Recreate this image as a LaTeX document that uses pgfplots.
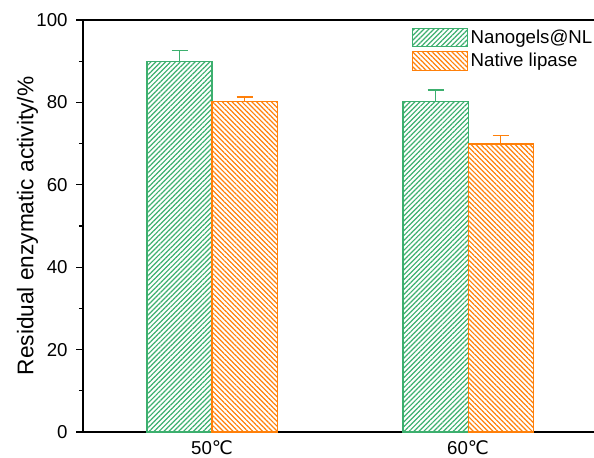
\documentclass[border=0pt]{standalone}
\usepackage{pgfplots}
\pgfplotsset{compat=1.18}
\usepackage{fontspec}
\setmainfont{Liberation Sans}
\newfontfamily\dejavu{DejaVu Sans}
\usetikzlibrary{patterns.meta,calc}

\definecolor{cgreen}{RGB}{60,175,110}
\definecolor{corange}{RGB}{255,128,10}

\begin{document}
\begin{tikzpicture}
\begin{axis}[name=ax,
    scale only axis, width=383.25pt, height=309pt,
    ybar=0pt, bar width=0.254,
    xmin=-0.504, xmax=1.492, ymin=0, ymax=100,
    axis x line*=box, axis y line*=left,
    axis line style={line width=1.2pt},
    xtick={0,1}, xticklabels={50{\dejavu ℃}, 60{\dejavu ℃}},
    major x tick style={draw=none},
    ytick={0,20,...,100}, minor y tick num=1,
    tick align=outside,
    major tick length=5pt, minor tick length=3pt,
    every tick/.style={line width=1pt, black},
    /pgf/number format/assume math mode=true,
    tick label style={font=\fontsize{14}{16}\selectfont},
    yticklabel style={xshift=-3pt},
    xticklabel style={yshift=2pt},
    ylabel={Residual enzymatic activity/\%},
    ylabel style={font=\fontsize{17}{20}\selectfont},
    ylabel shift=-8pt,
    legend style={at={(0.636,0.99)}, anchor=north west, draw=none, fill=none,
        font=\fontsize{14}{16}\selectfont, row sep=2pt,
        legend cell align=left},
    legend image code/.code={\draw[#1] (0pt,-7pt) rectangle (41pt,7pt);},
    error bars/y dir=plus, error bars/y explicit,
]
\addplot[draw=cgreen, line width=0.8pt,
    pattern={Lines[angle=45,distance=2.6pt,line width=0.9pt]}, pattern color=cgreen,
    error bars/error bar style={cgreen, line width=1pt},
    error bars/error mark options={cgreen, line width=1pt, mark size=6pt, rotate=90}]
    coordinates {(0,90.0) +- (0,2.6) (1,80.3) +- (0,2.7)};
\addplot[draw=corange, line width=0.8pt,
    pattern={Lines[angle=-45,distance=2.6pt,line width=0.9pt]}, pattern color=corange,
    error bars/error bar style={corange, line width=1pt},
    error bars/error mark options={corange, line width=1pt, mark size=6pt, rotate=90}]
    coordinates {(0,80.2) +- (0,1.1) (1,69.9) +- (0,2.0)};
\legend{Nanogels@NL, Native lipase}
\end{axis}
\pgfresetboundingbox
\path ($(ax.south west)+(-62.25pt,-19.5pt)$) rectangle ($(ax.north east)+(0pt,15pt)$);
\end{tikzpicture}
\end{document}
